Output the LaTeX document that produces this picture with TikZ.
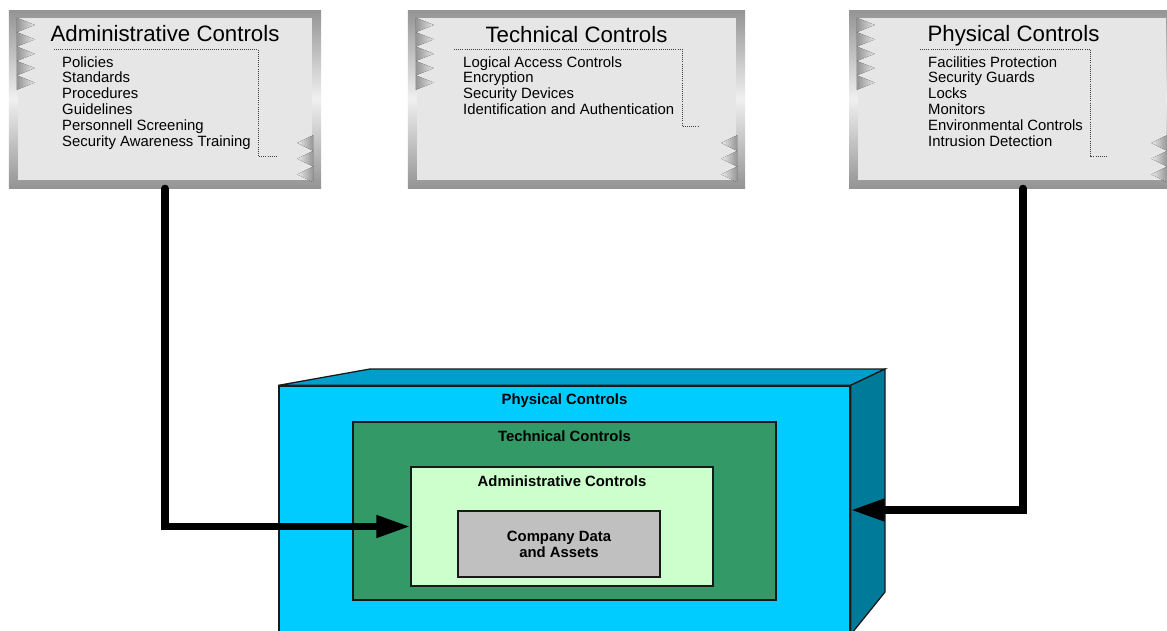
\documentclass[tikz,border=0pt]{standalone}
\usepackage{fontspec}
\setmainfont{Liberation Sans}
\usetikzlibrary{arrows.meta}

\definecolor{panelgray}{RGB}{230,230,230}
\definecolor{cubefront}{RGB}{0,204,255}
\definecolor{cubetop}{RGB}{0,158,204}
\definecolor{cubeside}{RGB}{0,122,153}
\definecolor{techgreen}{RGB}{51,153,102}
\definecolor{admingreen}{RGB}{204,255,204}
\definecolor{datagray}{RGB}{192,192,192}

\tikzset{
  ctrlframe/.style={rectangle, inner sep=0pt, top color=black!42, bottom color=black!42, middle color=black!6},
  panel/.style={rectangle, inner sep=0pt, fill=panelgray},
  tril/.style={left color=black!42, right color=black!10},
  trir/.style={left color=black!8, right color=black!42},
  guide/.style={densely dotted, line width=0.8pt, black!75},
  titletext/.style={font=\fontsize{19}{22}\selectfont, inner sep=0pt},
  listtext/.style={font=\fontsize{12.7}{13.5}\selectfont, align=left, inner sep=0pt},
  boxlabel/.style={font=\fontsize{12.7}{13.6}\selectfont\bfseries, align=center, inner sep=0pt},
  layer/.style={rectangle, draw=black!90, line width=1.1pt, inner sep=0pt},
  feed/.style={line width=6pt, line cap=round, -{Triangle[length=29pt, width=18pt]}}
}

\begin{document}
\begin{tikzpicture}[x=0.03cm, y=-0.03cm]
    \useasboundingbox (0,0) rectangle (1167,630);
    \clip (0,0) rectangle (1167,630);
    \fill[white] (0,0) rectangle (1167,630);

    % the three control panels
    \node[ctrlframe, minimum width=9.36cm, minimum height=5.34cm] (admin) at (165,99) {};
    \node[panel, minimum width=8.82cm, minimum height=4.86cm] (adminin) at (admin.center) {};
    \node[ctrlframe, minimum width=10.11cm, minimum height=5.34cm] (tech) at (576.5,99) {};
    \node[panel, minimum width=9.57cm, minimum height=4.86cm] (techin) at (tech.center) {};
    \node[ctrlframe, minimum width=9.78cm, minimum height=5.34cm] (phys) at (1012,99) {};
    \node[panel, minimum width=9.24cm, minimum height=4.86cm] (physin) at (phys.center) {};

    \foreach \b in {adminin, techin, physin} {
        \foreach \i in {0,...,4}
            \fill[tril] ([shift={(-1,14.4*\i)}]\b.north west) -- ++(18,7.2) -- ++(-18,7.2) -- cycle;
        \foreach \i in {1,2,3}
            \fill[trir] ([shift={(1,2-15.7*\i)}]\b.south east) -- ++(-16,7.85) -- ++(16,7.85) -- cycle;
    }

    \node[titletext, anchor=base] (admintitle) at ([shift={(0,32)}]admin.north) {Administrative Controls};
    \node[titletext, anchor=base] (techtitle) at ([shift={(0,33)}]tech.north) {Technical Controls};
    \node[titletext, anchor=base] (phystitle) at ([shift={(1.5,32)}]phys.north) {Physical Controls};

    \draw[guide] (54,49) -- (258,49) -- (258,156) -- (277,156);
    \draw[guide] (454,49) -- (682,49) -- (682,126) -- (698,126);
    \draw[guide] (920,49) -- (1090,49) -- (1090,156) -- (1107,156);

    \node[listtext, anchor=north west] (adminlist) at (62,56) {Policies\\Standards\\Procedures\\Guidelines\\Personnell Screening\\Security Awareness Training};
    \node[listtext, anchor=north west] (techlist) at (463,56) {Logical Access Controls\\Encryption\\Security Devices\\Identification and Authentication};
    \node[listtext, anchor=north west] (physlist) at (928,56) {Facilities Protection\\Security Guards\\Locks\\Monitors\\Environmental Controls\\Intrusion Detection};

    % nested layers
    \node[layer, fill=cubefront, minimum width=17.13cm, minimum height=7.44cm] (physfront) at (564.5,510) {};
    \draw[layer, fill=cubetop] (physfront.north west) -- (370,369) -- (885,369) -- (physfront.north east) -- cycle;
    \draw[layer, fill=cubeside] (physfront.north east) -- (885,369) -- (885,592) -- (physfront.south east) -- cycle;
    \node[layer, fill=techgreen, minimum width=12.69cm, minimum height=5.34cm] (techbox) at (564.5,511) {};
    \node[layer, fill=admingreen, minimum width=9.06cm, minimum height=3.57cm] (adminbox) at (562,526.5) {};
    \node[layer, fill=datagray, minimum width=6.06cm, minimum height=1.98cm] (databox) at (559,544) {};

    \node[boxlabel] (physlabel) at ([yshift=-13pt]physfront.north) {Physical Controls};
    \node[boxlabel] (techlabel) at ([yshift=-13pt]techbox.north) {Technical Controls};
    \node[boxlabel] (adminlabel) at ([yshift=-13pt]adminbox.north) {Administrative Controls};
    \node[boxlabel] (datalabel) at (databox.center) {Company Data\\and Assets};

    % connectors
    \coordinate (physdrop) at ([shift={(11,0)}]phys.south);
    \draw[feed] (admin.south) -- (admin.south |- adminbox.west) -- (adminbox.west);
    \draw[feed] (physdrop) -- (physdrop |- physfront.east) -- (physfront.east);
\end{tikzpicture}
\end{document}
